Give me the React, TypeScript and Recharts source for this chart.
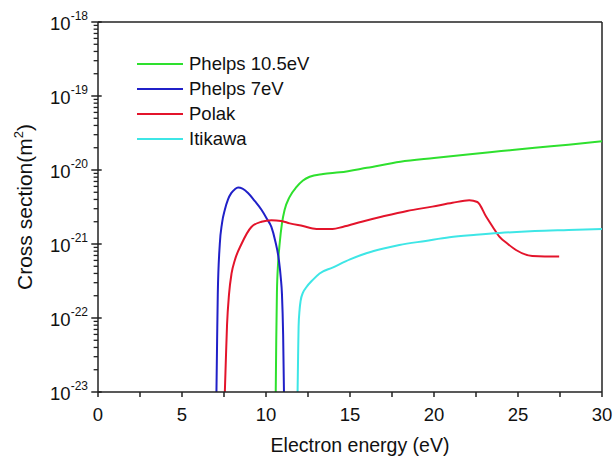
import { LineChart, Line, XAxis, YAxis, Legend, ReferenceLine } from "recharts";

// Electron energy (eV) / cross section (m^2)
const phelps105Energy = [10.58, 10.61, 10.65, 10.72, 10.81, 10.95, 11.11, 11.4, 11.82, 12.2, 12.6, 13.4, 14.4, 16, 18, 20, 22, 24, 26, 28, 30];
const phelps105Cross = [1e-23, 5e-23, 2.2e-22, 5.5e-22, 1.0e-21, 1.9e-21, 2.9e-21, 4.3e-21, 5.9e-21, 7.2e-21, 8.1e-21, 8.8e-21, 9.3e-21, 1.07e-20, 1.29e-20, 1.45e-20, 1.62e-20, 1.8e-20, 2.0e-20, 2.2e-20, 2.45e-20];

const phelps7Energy = [7.05, 7.09, 7.13, 7.25, 7.38, 7.55, 7.74, 7.94, 8.15, 8.34, 8.6, 8.93, 9.3, 9.73, 10.05, 10.32, 10.55, 10.77, 10.88, 10.95, 11.02, 11.07];
const phelps7Cross = [1e-23, 5e-23, 2.1e-22, 1.0e-21, 1.9e-21, 2.9e-21, 4.0e-21, 4.9e-21, 5.5e-21, 5.8e-21, 5.6e-21, 4.9e-21, 3.9e-21, 2.9e-21, 2.2e-21, 1.7e-21, 1.1e-21, 6.0e-22, 3.5e-22, 2.1e-22, 6e-23, 1e-23];

const polakEnergy = [7.55, 7.61, 7.68, 7.8, 7.95, 8.14, 8.54, 9.13, 9.73, 10.32, 10.9, 11.41, 12.2, 13.0, 13.96, 14.56, 15.7, 16.93, 18.4, 19.9, 21.1, 22.1, 22.58, 23.1, 23.5, 23.89, 24.4, 24.88, 25.85, 26.6, 27.45];
const polakCross = [1e-23, 2.7e-23, 8e-23, 2.1e-22, 4e-22, 6.0e-22, 1.0e-21, 1.7e-21, 2.0e-21, 2.1e-21, 2.05e-21, 1.9e-21, 1.75e-21, 1.6e-21, 1.6e-21, 1.7e-21, 2.0e-21, 2.35e-21, 2.8e-21, 3.2e-21, 3.6e-21, 3.9e-21, 3.7e-21, 2.35e-21, 1.7e-21, 1.26e-21, 1.0e-21, 8.3e-22, 6.9e-22, 6.8e-22, 6.8e-22];

const itikawaEnergy = [11.88, 11.91, 11.94, 12.0, 12.06, 12.2, 12.4, 12.8, 13.19, 13.96, 15, 15.97, 17, 17.94, 19.5, 20.92, 22.5, 23.89, 26, 28, 30];
const itikawaCross = [1e-23, 3e-23, 7.6e-23, 1.3e-22, 1.7e-22, 2.2e-22, 2.6e-22, 3.3e-22, 4.0e-22, 4.8e-22, 6.2e-22, 7.5e-22, 8.7e-22, 9.7e-22, 1.1e-21, 1.23e-21, 1.33e-21, 1.41e-21, 1.5e-21, 1.55e-21, 1.6e-21];

const xTicks = [0, 2.5, 5, 7.5, 10, 12.5, 15, 17.5, 20, 22.5, 25, 27.5, 30];
const decades = [-23, -22, -21, -20, -19];
const yMajor = [1e-23, 1e-22, 1e-21, 1e-20, 1e-19, 1e-18];
const yMinor = decades.flatMap((d) => [2, 3, 4, 5, 6, 7, 8, 9].map((m) => m * Math.pow(10, d)));

const FONT = "'Liberation Sans', Arial, sans-serif";
const AXIS = "#222";
const TICK = 5;

const toPoints = (xs: number[], ys: number[]) => xs.map((x, i) => ({ x, y: ys[i] }));

const series = [
  { name: "Phelps 10.5eV", color: "#2ee02e", data: toPoints(phelps105Energy, phelps105Cross) },
  { name: "Phelps 7eV", color: "#2020c8", data: toPoints(phelps7Energy, phelps7Cross) },
  { name: "Polak", color: "#e3142b", data: toPoints(polakEnergy, polakCross) },
  { name: "Itikawa", color: "#3ee6e6", data: toPoints(itikawaEnergy, itikawaCross) },
];

// labels only; x tick marks come from the native tickLine
function XTick(props: any) {
  const { x, y, payload } = props;
  const v = payload.value as number;
  if (v % 5 !== 0) return <g />;
  return (
    <text x={x} y={Number(y) - TICK + 29} textAnchor="middle" fontSize={18.5} fontFamily={FONT} fill="#111">
      {v}
    </text>
  );
}

function YTick(props: any) {
  const { x, y, payload } = props;
  const lg = Math.log10(payload.value as number);
  return (
    <text x={Number(x) - 10} y={Number(y) + 8} textAnchor="end" fontSize={18.5} fontFamily={FONT} fill="#111">
      10
      <tspan dy={-10} fontSize={12}>
        {Math.round(lg)}
      </tspan>
    </text>
  );
}

function XTitle({ viewBox }: any) {
  const { x, y, width } = viewBox;
  return (
    <text x={x + width / 2 + 10} y={y + 60} textAnchor="middle" fontSize={19.5} fontFamily={FONT} fill="#111">
      Electron energy (eV)
    </text>
  );
}

function YTitle({ viewBox }: any) {
  const { y, height } = viewBox;
  const cx = 32;
  const cy = y + height / 2;
  return (
    <text
      x={cx}
      y={cy}
      textAnchor="middle"
      fontSize={21}
      fontFamily={FONT}
      fill="#111"
      transform={`rotate(-90, ${cx}, ${cy})`}
    >
      Cross section(m
      <tspan dy={-9} fontSize={13}>
        2
      </tspan>
      <tspan dy={9}>)</tspan>
    </text>
  );
}

function LegendBox() {
  return (
    <div style={{ fontFamily: FONT, fontSize: 18.5, color: "#111" }}>
      {series.map((s) => (
        <div key={s.name} style={{ display: "flex", alignItems: "center", height: 25 }}>
          <span style={{ display: "inline-block", width: 46, height: 2, background: s.color, marginRight: 6 }} />
          <span>{s.name}</span>
        </div>
      ))}
    </div>
  );
}

export default function App() {
  return (
    <div style={{ position: "absolute", left: 0, top: 0, background: "#fff" }}>
      <LineChart width={614} height={457} margin={{ top: 22, right: 12, bottom: 0, left: 0 }}>
        <XAxis
          type="number"
          dataKey="x"
          domain={[0, 30]}
          ticks={xTicks}
          interval={0}
          allowDataOverflow
          height={65}
          tickSize={TICK}
          tickMargin={0}
          tickLine={{ stroke: AXIS, strokeWidth: 1.5 }}
          tick={(p: any) => <XTick {...p} />}
          axisLine={{ stroke: AXIS, strokeWidth: 1.5 }}
          label={<XTitle />}
        />
        <YAxis
          type="number"
          scale="log"
          domain={[1e-23, 1e-18]}
          ticks={yMajor}
          interval={0}
          allowDataOverflow
          width={98}
          tickSize={0}
          tickMargin={0}
          tickLine={false}
          tick={(p: any) => <YTick {...p} />}
          axisLine={{ stroke: AXIS, strokeWidth: 1.5 }}
          label={<YTitle />}
        />
        <ReferenceLine y={1e-18} stroke={AXIS} strokeWidth={1.5} />
        <ReferenceLine x={30} stroke={AXIS} strokeWidth={1.5} />
        {/* log-axis tick marks: majors cross the axis, minors point outward */}
        {yMajor.map((v) => (
          <ReferenceLine
            key={`M${v}`}
            segment={[{ x: -0.4, y: v }, { x: 0.22, y: v }]}
            ifOverflow="visible"
            stroke={AXIS}
            strokeWidth={1.5}
          />
        ))}
        {yMinor.map((v) => (
          <ReferenceLine
            key={`m${v}`}
            segment={[{ x: -0.26, y: v }, { x: 0, y: v }]}
            ifOverflow="visible"
            stroke={AXIS}
            strokeWidth={1.3}
          />
        ))}
        {series.map((s) => (
          <Line
            key={s.name}
            data={s.data}
            dataKey="y"
            name={s.name}
            type="monotone"
            stroke={s.color}
            strokeWidth={2}
            dot={false}
            isAnimationActive={false}
          />
        ))}
        <Legend
          layout="vertical"
          align="center"
          verticalAlign="middle"
          content={<LegendBox />}
          wrapperStyle={{ top: 51, left: 137, width: 220 }}
        />
      </LineChart>
    </div>
  );
}
